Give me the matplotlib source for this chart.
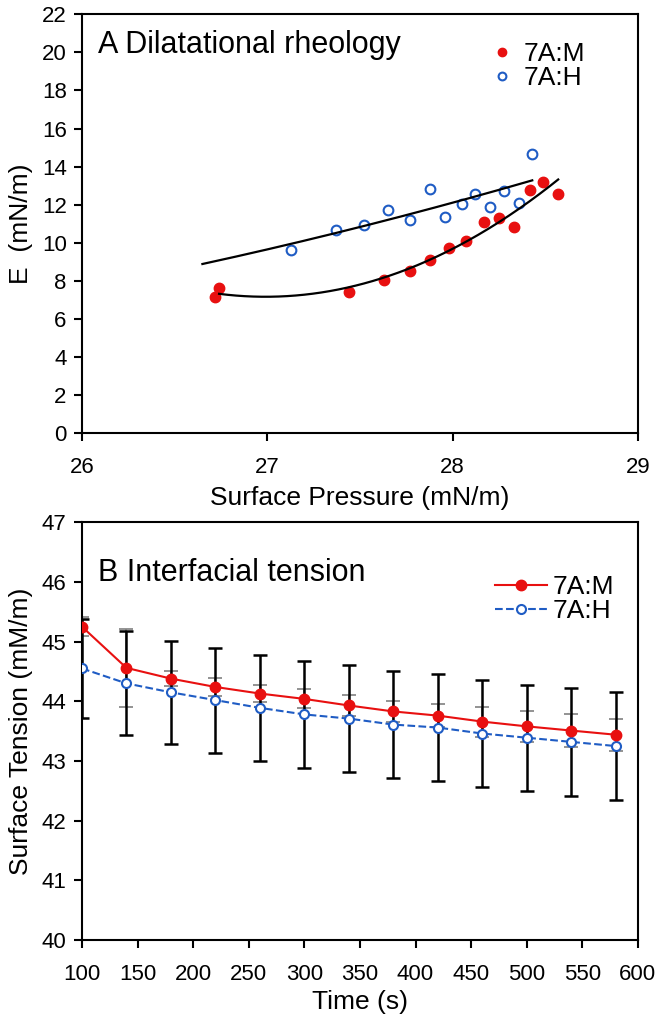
import numpy as np
import matplotlib
matplotlib.use("Agg")
from matplotlib import pyplot as plt

plt.rcParams["font.family"] = ["Liberation Sans", "DejaVu Sans"]

# Panel A: dilatational rheology
m_pressure = [26.72, 26.74, 27.44, 27.63, 27.77, 27.88, 27.98, 28.07, 28.17,
              28.25, 28.33, 28.42, 28.49, 28.57]
m_modulus = [7.16, 7.63, 7.39, 8.07, 8.54, 9.08, 9.71, 10.11, 11.09,
             11.30, 10.81, 12.76, 13.21, 12.58]
h_pressure = [27.13, 27.37, 27.52, 27.65, 27.77, 27.88, 27.96, 28.05, 28.12,
              28.20, 28.28, 28.36, 28.43]
h_modulus = [9.64, 10.66, 10.96, 11.72, 11.20, 12.83, 11.34, 12.02, 12.58,
             11.88, 12.74, 12.11, 14.68]
# trendline extents (Excel trendline with backward forecast on 7A:H)
m_fit_range = [26.74, 28.57]
h_fit_range = [26.65, 28.43]

# Panel B: interfacial tension
time_s = [100, 140, 180, 220, 260, 300, 340, 380, 420, 460, 500, 540, 580]
m_tension = [45.25, 44.56, 44.38, 44.24, 44.13, 44.04, 43.93, 43.83, 43.76,
             43.66, 43.58, 43.51, 43.44]
m_err = [0.16, 0.65, 0.12, 0.15, 0.15, 0.16, 0.17, 0.18, 0.19, 0.25, 0.26,
         0.27, 0.27]
h_tension = [44.55, 44.30, 44.15, 44.02, 43.89, 43.78, 43.71, 43.61, 43.56,
             43.46, 43.39, 43.32, 43.25]
h_err = [0.83, 0.87, 0.86, 0.88, 0.89, 0.90, 0.90, 0.90, 0.90, 0.90, 0.89,
         0.90, 0.90]

red = "#e81010"
blue = "#1f5cc4"

fig = plt.figure(figsize=(6.61, 10.24), dpi=100)
ax1 = fig.add_axes([0.124, 0.577, 0.841, 0.409])
ax2 = fig.add_axes([0.124, 0.082, 0.841, 0.408])

# ---- panel A
ax1.plot(m_pressure, m_modulus, "o", color=red, markersize=7.5, label="7A:M",
         zorder=3)
ax1.plot(h_pressure, h_modulus, "o", markerfacecolor="white",
         markeredgecolor=blue, markeredgewidth=1.5, markersize=7, label="7A:H",
         zorder=3)
for px, ey, rng in [(m_pressure, m_modulus, m_fit_range),
                    (h_pressure, h_modulus, h_fit_range)]:
    coef = np.polyfit(px, ey, 2)
    xs = np.linspace(rng[0], rng[1], 200)
    ax1.plot(xs, np.polyval(coef, xs), color="black", lw=1.6, zorder=4)

ax1.set_xlim(26, 29)
ax1.set_ylim(0, 22)
ax1.set_xticks([26, 27, 28, 29])
ax1.set_yticks(range(0, 23, 2))
ax1.set_xlabel("Surface Pressure (mN/m)", fontsize=19, labelpad=6)
ax1.set_ylabel("E  (mN/m)", fontsize=19)
ax1.yaxis.set_label_coords(-0.088, 0.5)
ax1.text(0.028, 0.926, "A Dilatational rheology", transform=ax1.transAxes,
         fontsize=22, va="center")
ax1.legend(loc="upper right", bbox_to_anchor=(0.947, 0.99), frameon=False,
           fontsize=19, handletextpad=0.2, labelspacing=0.0, markerscale=0.8,
           handlelength=1.2)

# ---- panel B
ax2.errorbar(time_s, m_tension, yerr=m_err, fmt="none", ecolor="#808080",
             elinewidth=1.2, capsize=5, capthick=1.2, zorder=1)
ax2.errorbar(time_s, h_tension, yerr=h_err, fmt="none", ecolor="black",
             elinewidth=1.8, capsize=5, capthick=1.8, zorder=2)
ax2.plot(time_s, m_tension, "-o", color=red, lw=1.5, markersize=7.5,
         label="7A:M", zorder=4)
ax2.plot(time_s, h_tension, "--o", color=blue, lw=1.5, markersize=6.5,
         markerfacecolor="white", markeredgewidth=1.5, label="7A:H", zorder=3)
ax2.set_xlim(100, 600)
ax2.set_ylim(40, 47)
ax2.set_xticks(range(100, 601, 50))
ax2.set_yticks(range(40, 48))
ax2.set_xlabel("Time (s)", fontsize=19, labelpad=4)
ax2.set_ylabel("Surface Tension (mM/m)", fontsize=19)
ax2.yaxis.set_label_coords(-0.088, 0.5)
ax2.text(0.028, 0.878, "B Interfacial tension", transform=ax2.transAxes,
         fontsize=22, va="center")
ax2.legend(loc="upper right", bbox_to_anchor=(1.0, 0.93), frameon=False,
           fontsize=19, handletextpad=0.2, labelspacing=0.0,
           handlelength=2.0)

for ax in (ax1, ax2):
    for s in ax.spines.values():
        s.set_linewidth(1.5)
    ax.tick_params(direction="out", length=6, width=1.5, labelsize=16)
    ax.tick_params(axis="x", pad=11)
    ax.tick_params(axis="y", pad=5)

fig.savefig("out.png", dpi=100)
